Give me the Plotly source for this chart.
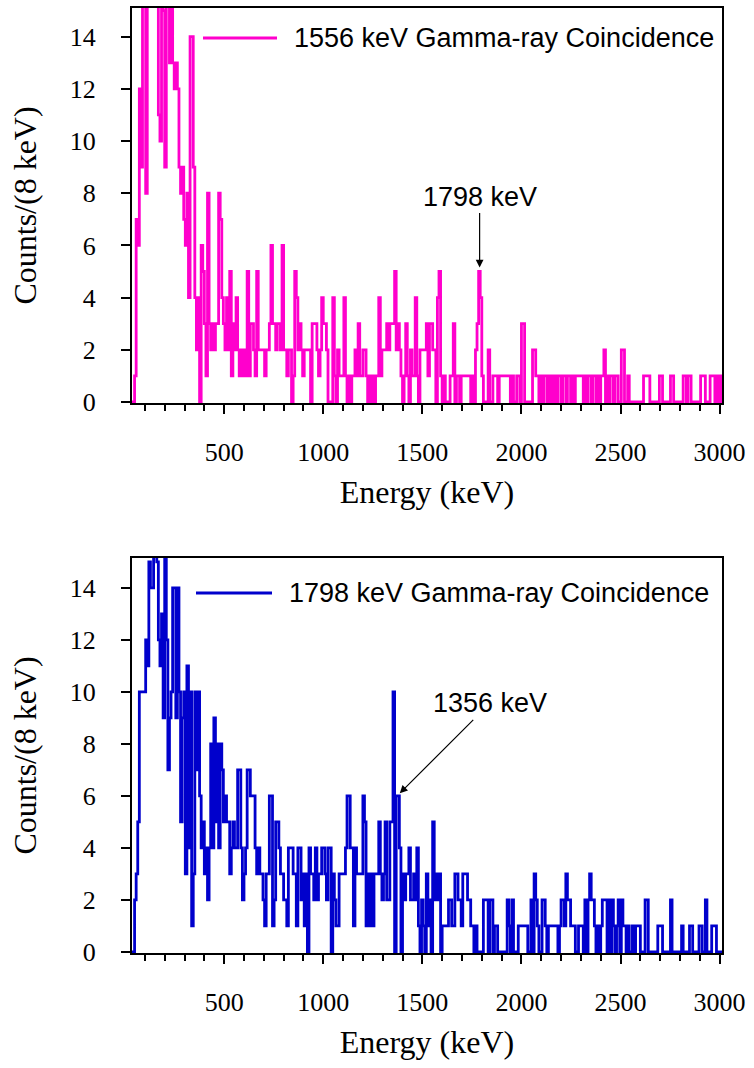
import plotly.graph_objects as go

BIN_KEV = 8  # keV per histogram bin

# Counts per 8-keV bin, bin i covers [8*i, 8*i+8) keV
counts_1556 = [
    0, 0, 0, 0, 0, 0, 1, 7, 6, 12,
    9, 16, 16, 8, 17, 18, 16, 19, 17, 16,
    18, 11, 10, 16, 15, 9, 16, 17, 13, 16,
    13, 12, 13, 12, 9, 8, 9, 7, 6, 8,
    4, 14, 14, 9, 4, 2, 4, 0, 6, 5,
    3, 1, 8, 3, 2, 3, 2, 3, 3, 8,
    7, 4, 3, 2, 4, 2, 5, 1, 3, 2,
    4, 2, 1, 2, 1, 2, 1, 5, 1, 3,
    3, 2, 1, 5, 2, 2, 2, 2, 1, 2,
    2, 3, 6, 3, 3, 2, 3, 3, 2, 6,
    2, 2, 1, 2, 2, 0, 1, 5, 4, 2,
    3, 2, 1, 2, 2, 2, 2, 0, 3, 3,
    3, 2, 1, 2, 4, 3, 3, 2, 0, 0,
    0, 4, 1, 0, 2, 1, 1, 1, 4, 1,
    0, 1, 0, 1, 1, 2, 1, 3, 1, 1,
    2, 2, 1, 0, 1, 0, 1, 0, 1, 1,
    4, 1, 2, 2, 2, 3, 2, 3, 3, 3,
    5, 2, 3, 2, 1, 0, 1, 3, 1, 0,
    2, 1, 1, 4, 1, 0, 2, 2, 2, 2,
    3, 1, 3, 3, 2, 2, 0, 4, 5, 1,
    0, 1, 0, 0, 0, 1, 1, 3, 0, 1,
    1, 0, 1, 1, 1, 1, 1, 1, 0, 1,
    0, 2, 3, 5, 4, 1, 0, 0, 0, 2,
    0, 0, 1, 1, 1, 0, 1, 1, 1, 1,
    1, 1, 1, 0, 1, 0, 0, 1, 1, 0,
    3, 3, 0, 0, 0, 0, 0, 2, 2, 1,
    1, 0, 1, 0, 1, 1, 0, 1, 0, 1,
    0, 1, 0, 1, 1, 0, 1, 1, 0, 1,
    1, 0, 1, 0, 1, 1, 1, 1, 1, 0,
    1, 0, 1, 1, 0, 1, 1, 0, 1, 0,
    1, 1, 2, 0, 1, 0, 1, 1, 0, 1,
    1, 0, 0, 2, 2, 0, 0, 1, 0, 0,
    0, 0, 0, 0, 0, 0, 0, 1, 1, 1,
    1, 0, 0, 0, 0, 0, 0, 1, 1, 0,
    0, 0, 0, 0, 1, 1, 0, 0, 0, 0,
    0, 0, 1, 1, 0, 1, 1, 0, 0, 0,
    0, 0, 0, 1, 1, 1, 0, 0, 0, 1,
    1, 1, 0, 1, 0, 1, 0,
]

counts_1798 = [
    0, 0, 0, 0, 0, 0, 2, 3, 5, 10,
    10, 10, 10, 12, 11, 15, 14, 14, 17, 17,
    15, 12, 11, 13, 9, 16, 12, 7, 9, 10,
    14, 14, 9, 14, 10, 5, 9, 10, 3, 11,
    4, 10, 1, 3, 10, 7, 10, 6, 4, 5,
    3, 4, 2, 4, 8, 4, 9, 5, 8, 4,
    8, 7, 5, 6, 5, 5, 3, 4, 5, 4,
    4, 7, 7, 4, 2, 3, 4, 7, 7, 6,
    6, 6, 4, 3, 4, 3, 3, 2, 1, 3,
    3, 6, 6, 1, 2, 5, 5, 4, 3, 3,
    2, 2, 1, 4, 4, 4, 3, 3, 1, 4,
    4, 2, 3, 1, 3, 0, 4, 3, 3, 2,
    4, 2, 3, 3, 4, 4, 3, 2, 4, 4,
    0, 3, 2, 1, 1, 3, 3, 3, 3, 4,
    6, 6, 4, 4, 1, 4, 3, 3, 3, 3,
    6, 5, 1, 3, 1, 3, 1, 3, 3, 3,
    5, 3, 2, 3, 5, 2, 2, 5, 5, 10,
    0, 6, 6, 4, 0, 3, 2, 3, 3, 4,
    2, 2, 3, 2, 4, 1, 0, 2, 1, 0,
    3, 1, 2, 0, 5, 2, 3, 2, 3, 0,
    1, 1, 1, 1, 2, 2, 1, 1, 3, 3,
    2, 2, 1, 3, 3, 3, 2, 2, 1, 1,
    0, 1, 0, 0, 0, 0, 2, 2, 2, 0,
    2, 2, 0, 1, 1, 0, 0, 0, 0, 0,
    0, 2, 1, 0, 2, 0, 0, 0, 1, 1,
    1, 1, 1, 1, 0, 0, 2, 0, 3, 2,
    1, 0, 0, 2, 2, 1, 0, 1, 1, 1,
    1, 1, 1, 0, 1, 2, 2, 1, 3, 2,
    2, 1, 1, 1, 0, 0, 1, 1, 1, 0,
    2, 0, 2, 3, 2, 2, 1, 0, 1, 0,
    1, 2, 2, 2, 0, 2, 0, 2, 1, 0,
    1, 2, 0, 2, 1, 1, 0, 1, 0, 0,
    1, 0, 1, 1, 1, 0, 0, 0, 2, 2,
    0, 0, 0, 0, 0, 0, 1, 1, 1, 0,
    0, 0, 0, 0, 2, 0, 0, 0, 0, 0,
    0, 1, 0, 0, 0, 0, 1, 1, 0, 0,
    0, 0, 1, 1, 0, 0, 2, 0, 0, 0,
    1, 1, 1, 0, 0, 0, 0,
]

x_tick_vals = [500, 1000, 1500, 2000, 2500, 3000]
y_tick_vals = [0, 2, 4, 6, 8, 10, 12, 14]

legend_top = "1556 keV Gamma-ray Coincidence"
legend_bottom = "1798 keV Gamma-ray Coincidence"
peak_top = "1798 keV"
peak_bottom = "1356 keV"

MAGENTA = "#FF00CC"
BLUE = "#0000CC"

W, H = 754, 1068


def step_xy(counts):
    edges = [i * BIN_KEV for i in range(len(counts) + 1)]
    return edges, list(counts) + [counts[-1]]


def px_x(p):
    return p / W


def px_y(p):
    return 1 - p / H


fig = go.Figure()

xs, ys = step_xy(counts_1556)
fig.add_trace(go.Scatter(x=xs, y=ys, mode="lines", line=dict(color=MAGENTA, width=2.8, shape="hv"),
                         name=legend_top, showlegend=False, xaxis="x", yaxis="y"))
xs, ys = step_xy(counts_1798)
fig.add_trace(go.Scatter(x=xs, y=ys, mode="lines", line=dict(color=BLUE, width=2.8, shape="hv"),
                         name=legend_bottom, showlegend=False, xaxis="x2", yaxis="y2"))

serif = "Liberation Serif, Times New Roman, serif"
sans = "Liberation Sans, Arial, sans-serif"

x_dom = [px_x(132), px_x(722)]


def xaxis_cfg(anchor):
    return dict(
        domain=x_dom, anchor=anchor, range=[35, 3012], automargin=False,
        tickmode="array", tickvals=x_tick_vals,
        ticks="outside", ticklen=9, tickwidth=2, tickcolor="black",
        minor=dict(tick0=0, dtick=100, ticks="outside", ticklen=6, tickwidth=1.5, tickcolor="black"),
        showline=True, linecolor="black", linewidth=2, mirror=True,
        showgrid=False, zeroline=False,
        tickfont=dict(family=serif, size=26, color="black"),
        ticklabelstandoff=16,
        title=dict(text="Energy (keV)", font=dict(family=serif, size=32, color="black"), standoff=14),
    )


def yaxis_cfg(anchor, dom, rng):
    return dict(
        domain=dom, anchor=anchor, range=rng, automargin=False,
        tickmode="array", tickvals=y_tick_vals,
        ticks="outside", ticklen=9, tickwidth=2, tickcolor="black",
        showline=True, linecolor="black", linewidth=2, mirror=True,
        showgrid=False, zeroline=False,
        tickfont=dict(family=serif, size=26, color="black"),
        ticklabelstandoff=20,
        title=dict(text="Counts/(8 keV)", font=dict(family=serif, size=32, color="black"), standoff=24),
    )


fig.update_layout(
    template="none",
    width=W, height=H,
    margin=dict(l=0, r=0, t=0, b=0, autoexpand=False),
    paper_bgcolor="white", plot_bgcolor="white",
    showlegend=False,
    xaxis=xaxis_cfg("y"),
    yaxis=yaxis_cfg("x", [px_y(403), px_y(8)], [-0.04, 15.1]),
    xaxis2=xaxis_cfg("y2"),
    yaxis2=yaxis_cfg("x2", [px_y(953), px_y(558)], [-0.04, 15.15]),
)

# Legend-like labels (line sample + text)
fig.add_shape(type="line", xref="paper", yref="paper", x0=px_x(203), x1=px_x(277), y0=px_y(38), y1=px_y(38),
              line=dict(color=MAGENTA, width=2.8))
fig.add_annotation(xref="paper", yref="paper", x=px_x(292), y=px_y(38), text=legend_top, showarrow=False,
                   xanchor="left", yanchor="middle", font=dict(family=sans, size=27, color="black"))
fig.add_shape(type="line", xref="paper", yref="paper", x0=px_x(196), x1=px_x(272), y0=px_y(593), y1=px_y(593),
              line=dict(color=BLUE, width=2.8))
fig.add_annotation(xref="paper", yref="paper", x=px_x(287), y=px_y(593), text=legend_bottom, showarrow=False,
                   xanchor="left", yanchor="middle", font=dict(family=sans, size=27, color="black"))

# Peak labels with arrows
fig.add_annotation(xref="x", yref="y", x=1789, y=5.15, text=peak_top, showarrow=True,
                   ax=0, ay=-71, arrowhead=2, arrowsize=1.3, arrowwidth=1.2, arrowcolor="black", standoff=0,
                   font=dict(family=sans, size=27, color="black"))
fig.add_annotation(xref="x2", yref="y2", x=1386, y=6.1, text=peak_bottom, showarrow=True,
                   ax=90, ay=-90, arrowhead=2, arrowsize=1.3, arrowwidth=1.2, arrowcolor="black", standoff=0,
                   font=dict(family=sans, size=27, color="black"))

fig.write_html("out.html")
